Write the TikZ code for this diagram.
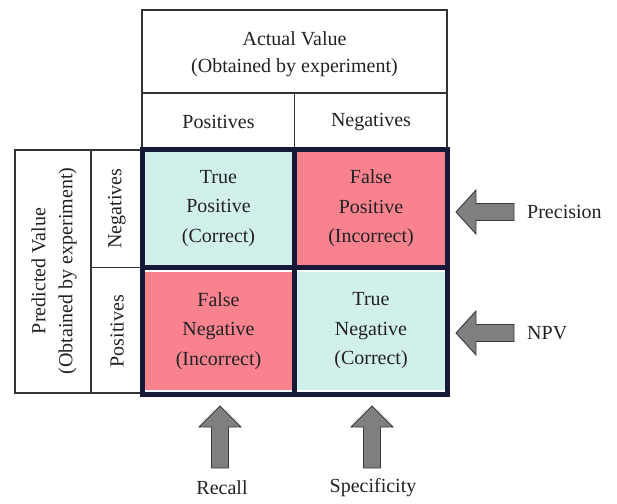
\documentclass[tikz,border=0pt]{standalone}
\usepackage{fontspec}
\setmainfont{Liberation Serif}
\definecolor{cellcyan}{HTML}{D2F0EB}
\definecolor{cellpink}{HTML}{F9828F}
\definecolor{navy}{HTML}{161A38}
\definecolor{thin}{HTML}{333333}
\definecolor{txt}{HTML}{222222}
\definecolor{arrowfill}{HTML}{7F7F7F}
\definecolor{arrowline}{HTML}{3A3A3A}
\begin{document}
\begin{tikzpicture}[x=1pt,y=-1pt,
  lbl/.style={text=txt,font=\fontsize{20}{28}\selectfont,align=center,inner sep=0pt},
  cell/.style={lbl,minimum width=152pt,minimum height=118pt,font=\fontsize{20}{29.5}\selectfont},
  thinline/.style={draw=thin,line width=1.1pt},
  thickline/.style={draw=navy,line width=5pt},
  bigarrow/.style={fill=arrowfill,draw=arrowline,line width=0.9pt,line join=miter}]
\useasboundingbox (0,0) rectangle (617,503);
% header boxes
\draw[thinline] (142,10) rectangle (447,148);
\draw[thinline] (142,93) -- (447,93);
\draw[thinline] (294.5,93) -- (294.5,148);
\node[lbl,font=\fontsize{20}{27}\selectfont] (actual) at (294.5,54) {Actual Value\\(Obtained by experiment)};
\node[lbl] (colpos) at (218.5,122) {Positives};
\node[lbl] (colneg) at (371,122) {Negatives};
% left boxes
\draw[thinline] (15,150) rectangle (142,393);
\draw[thinline] (91,150) -- (91,393);
\draw[thinline] (91,267.5) -- (142,267.5);
\node[lbl,rotate=90,font=\fontsize{20}{27}\selectfont] (predicted) at (54,271) {Predicted Value\\(Obtained by experiment)};
\node[lbl,rotate=90] (rowneg) at (117,208.5) {Negatives};
\node[lbl,rotate=90] (rowpos) at (117,331) {Positives};
% cells
\node[cell,fill=cellcyan] (tp) at (218.5,208.5) {True\\Positive\\(Correct)};
\node[cell,fill=cellpink] (fp) at (371,208.5) {False\\Positive\\(Incorrect)};
\node[cell,fill=cellpink] (fn) at (218.5,331) {False\\Negative\\(Incorrect)};
\node[cell,fill=cellcyan] (tn) at (371,331) {True\\Negative\\(Correct)};
\draw[thickline] (142.5,149.5) rectangle (447.5,394.5);
\draw[thickline] (294.5,149.5) -- (294.5,394.5);
\draw[thickline] (142.5,267.5) -- (447.5,267.5);
% right arrows
\draw[bigarrow] (456,212) -- (476,190) -- (476,203.5) -- (514,203.5) -- (514,220.5) -- (476,220.5) -- (476,234) -- cycle;
\node[lbl,anchor=west] (precision) at (527,212) {Precision};
\draw[bigarrow] (456,333) -- (476,311) -- (476,324.5) -- (514,324.5) -- (514,341.5) -- (476,341.5) -- (476,355) -- cycle;
\node[lbl,anchor=west] (npv) at (527,333) {NPV};
% bottom arrows
\draw[bigarrow] (220,406) -- (241,427) -- (228.5,427) -- (228.5,468) -- (211.5,468) -- (211.5,427) -- (199,427) -- cycle;
\node[lbl] (recall) at (222,488) {Recall};
\draw[bigarrow] (372,406) -- (393,427) -- (380.5,427) -- (380.5,468) -- (363.5,468) -- (363.5,427) -- (351,427) -- cycle;
\node[lbl] (specificity) at (373,488) {Specificity};
\end{tikzpicture}
\end{document}
